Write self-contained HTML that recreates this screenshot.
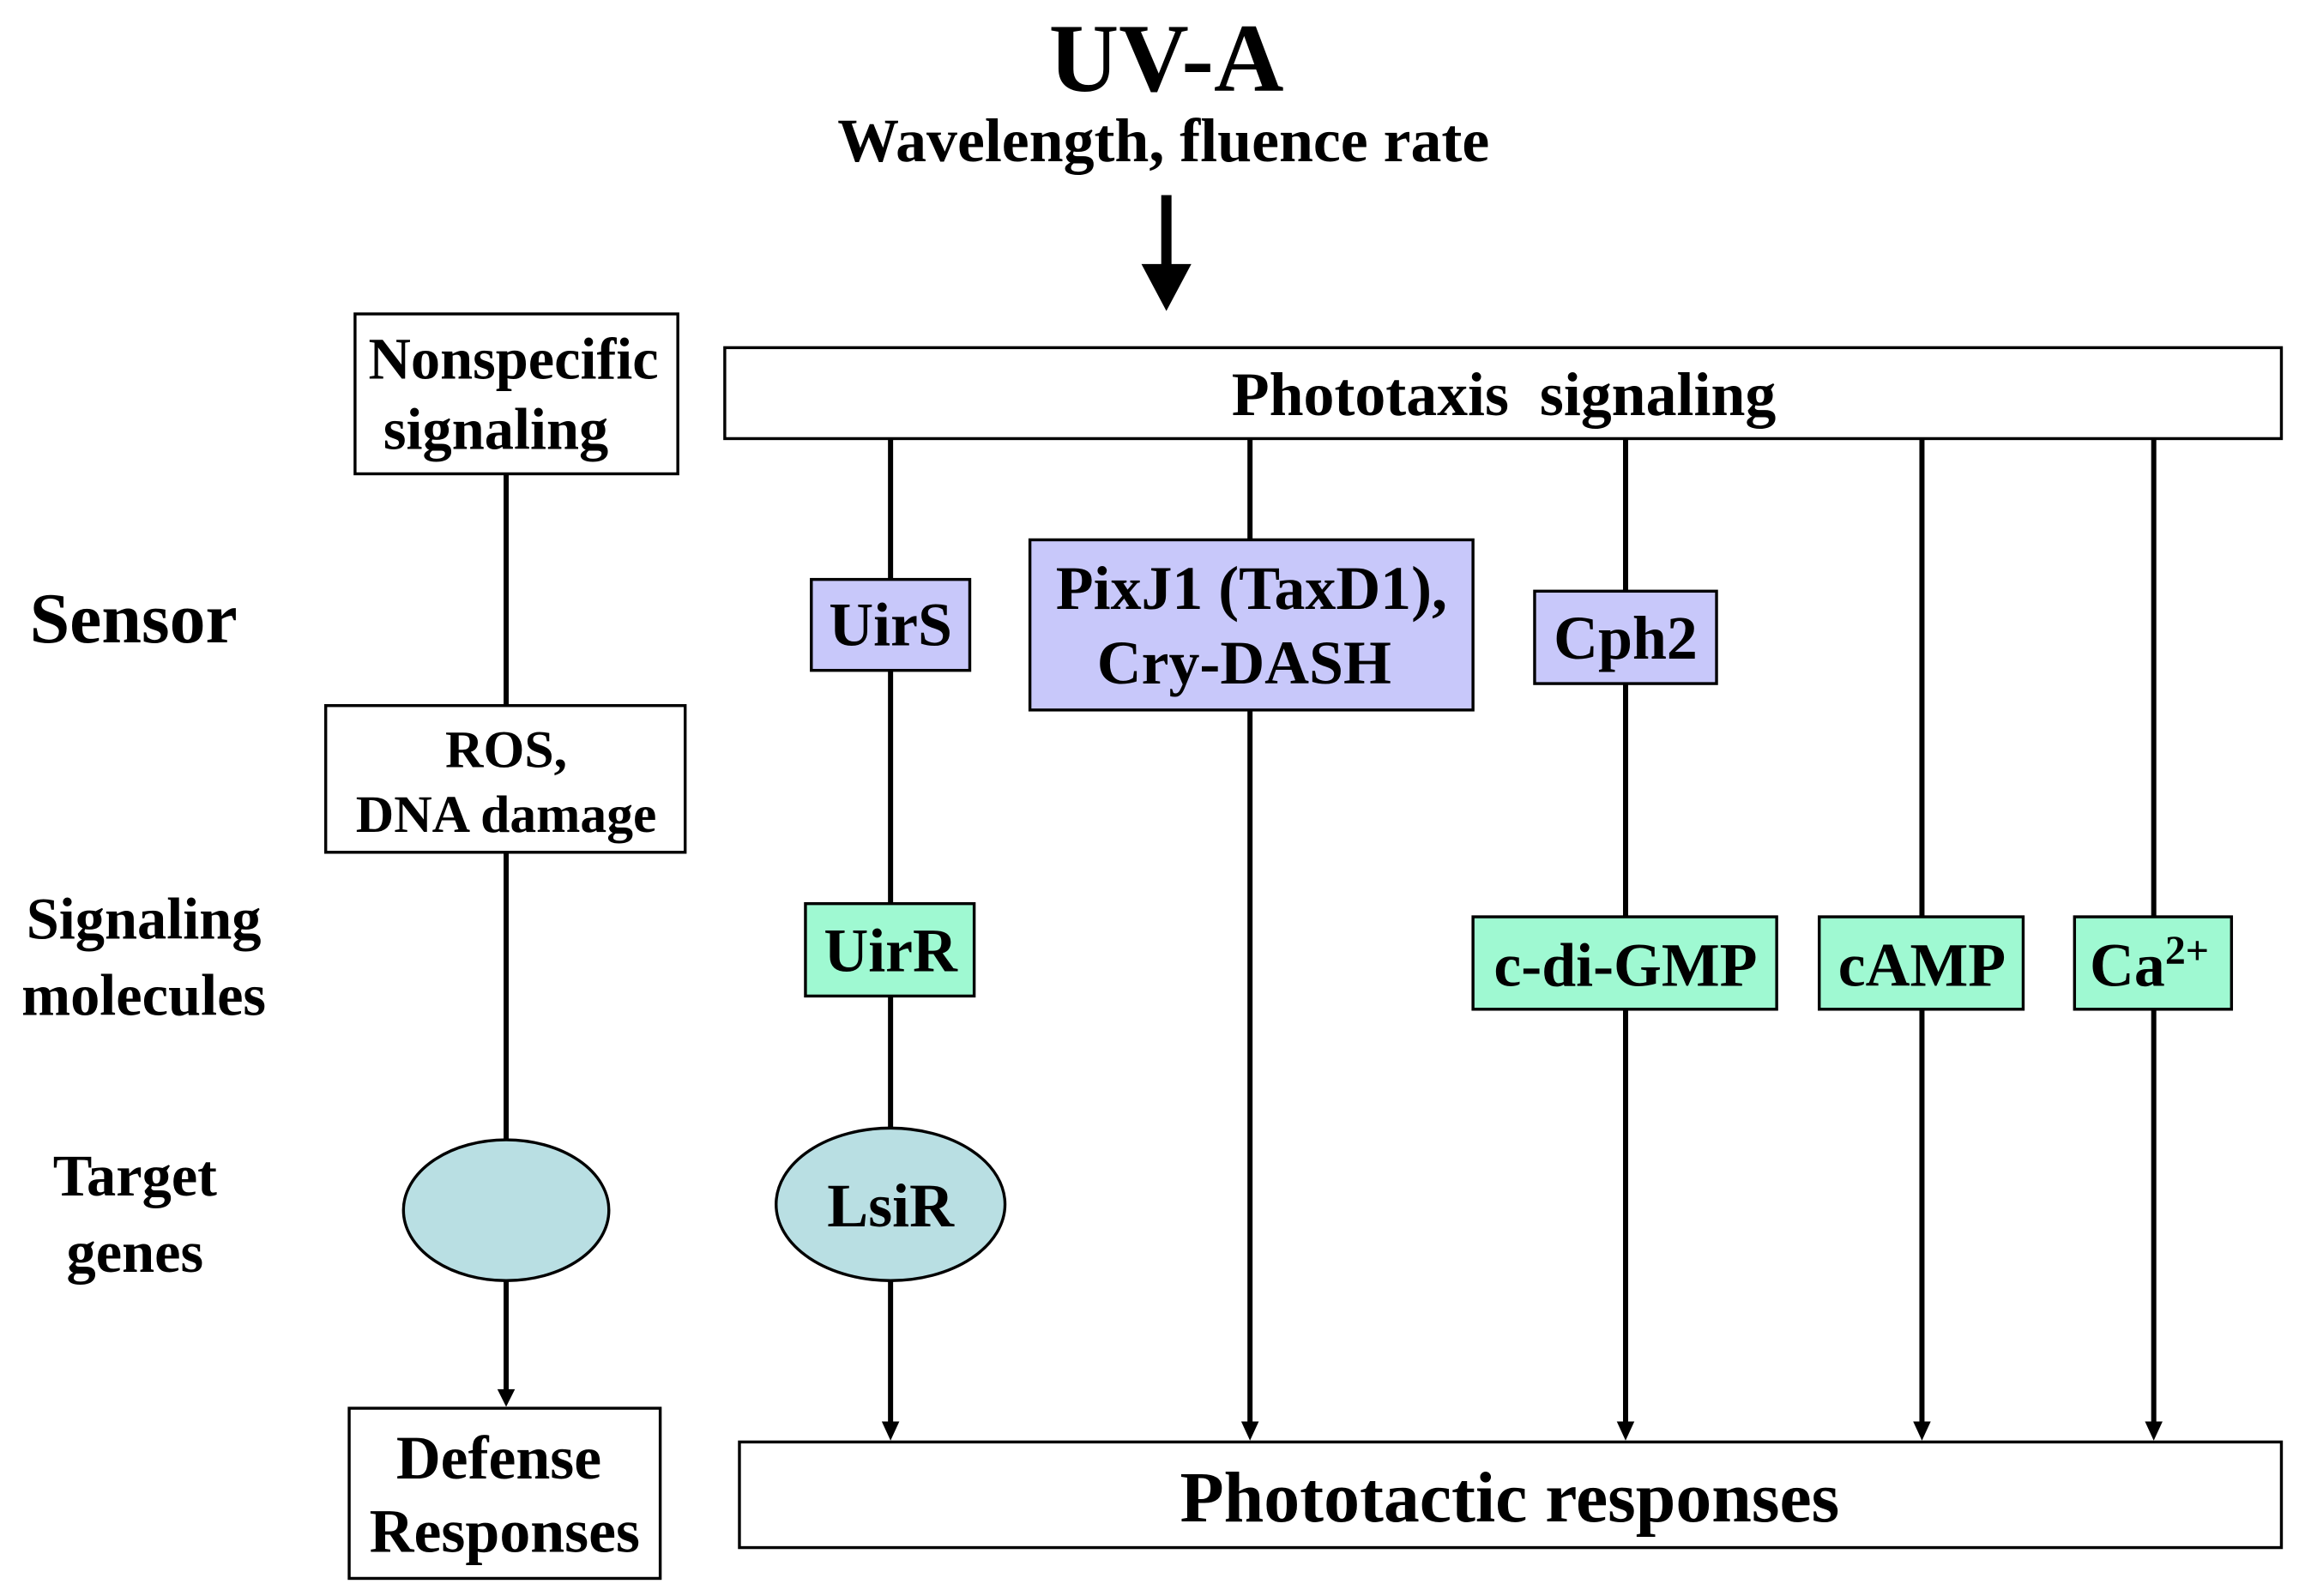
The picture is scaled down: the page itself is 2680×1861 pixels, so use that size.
<!DOCTYPE html>
<html><head><style>html,body{margin:0;padding:0;background:#fff}svg{display:block}</style></head>
<body>
<svg width="2680" height="1861" viewBox="0 0 1567 1088" preserveAspectRatio="none" xmlns="http://www.w3.org/2000/svg" font-family="Liberation Serif, serif" font-weight="bold" text-anchor="middle">
<rect width="1567" height="1088" fill="#fff"/>
<text x="795" y="62" font-size="66">UV-A</text>
<text x="793" y="110" font-size="42">Wavelength, fluence rate</text>
<line x1="795" y1="133" x2="795" y2="185" stroke="#000" stroke-width="7"/>
<path d="M778,180 L812,180 L795,212 z" fill="#000"/>
<g stroke="#000" stroke-width="2" fill="#fff">
<rect x="242" y="214" width="220" height="109"/>
<rect x="494" y="237" width="1061" height="62"/>
<rect x="222" y="481" width="245" height="100"/>
<rect x="238" y="960" width="212" height="116"/>
<rect x="504" y="983" width="1051" height="72"/>
</g>
<g stroke="#000" stroke-width="3.5" fill="none">
<line x1="345" y1="323" x2="345" y2="481"/>
<line x1="345" y1="581" x2="345" y2="777"/>
<line x1="345" y1="873" x2="345" y2="950"/>
<line x1="607" y1="299" x2="607" y2="972"/>
<line x1="852" y1="299" x2="852" y2="972"/>
<line x1="1108" y1="299" x2="1108" y2="972"/>
<line x1="1310" y1="299" x2="1310" y2="972"/>
<line x1="1468" y1="299" x2="1468" y2="972"/>
</g>
<g fill="#000">
<path d="M339,947 L351,947 L345,959 z"/>
<path d="M601,969 L613,969 L607,982 z"/>
<path d="M846,969 L858,969 L852,982 z"/>
<path d="M1102,969 L1114,969 L1108,982 z"/>
<path d="M1304,969 L1316,969 L1310,982 z"/>
<path d="M1462,969 L1474,969 L1468,982 z"/>
</g>
<g stroke="#000" stroke-width="2">
<rect x="553" y="395" width="108" height="62" fill="#c8c8fa"/>
<rect x="702" y="368" width="302" height="116" fill="#c8c8fa"/>
<rect x="1046" y="403" width="124" height="63" fill="#c8c8fa"/>
<rect x="549" y="616" width="115" height="63" fill="#9ff9d2"/>
<rect x="1004" y="625" width="207" height="63" fill="#9ff9d2"/>
<rect x="1240" y="625" width="139" height="63" fill="#9ff9d2"/>
<rect x="1414" y="625" width="107" height="63" fill="#9ff9d2"/>
<ellipse cx="345" cy="825" rx="70" ry="48" fill="#b9dfe3"/>
<ellipse cx="607" cy="821" rx="78" ry="52" fill="#b9dfe3"/>
</g>
<g font-size="40">
<text x="350" y="258">Nonspecific</text>
<text x="338" y="306">signaling</text>
<text x="1025" y="283" font-size="42" xml:space="preserve">Phototaxis  signaling</text>
<text x="91" y="438" font-size="49">Sensor</text>
<text x="98" y="640">Signaling</text>
<text x="98" y="692">molecules</text>
<text x="92" y="815">Target</text>
<text x="92" y="867">genes</text>
<text x="607" y="440" font-size="42">UirS</text>
<text x="853" y="415" font-size="42">PixJ1 (TaxD1),</text>
<text x="848" y="466" font-size="42">Cry-DASH</text>
<text x="1108" y="449" font-size="42">Cph2</text>
<text x="607" y="662" font-size="42">UirR</text>
<text x="1108" y="672" font-size="42">c-di-GMP</text>
<text x="1310" y="672" font-size="42">cAMP</text>
<text x="1465" y="672" font-size="42">Ca<tspan font-size="28" dy="-15">2+</tspan></text>
<text x="607" y="836" font-size="42">LsiR</text>
<text x="345" y="523" font-size="36">ROS,</text>
<text x="345" y="567" font-size="36">DNA damage</text>
<text x="340" y="1008" font-size="42">Defense</text>
<text x="344" y="1058" font-size="42">Responses</text>
<text x="1029" y="1037" font-size="49">Phototactic responses</text>
</g>
</svg>
</body></html>
